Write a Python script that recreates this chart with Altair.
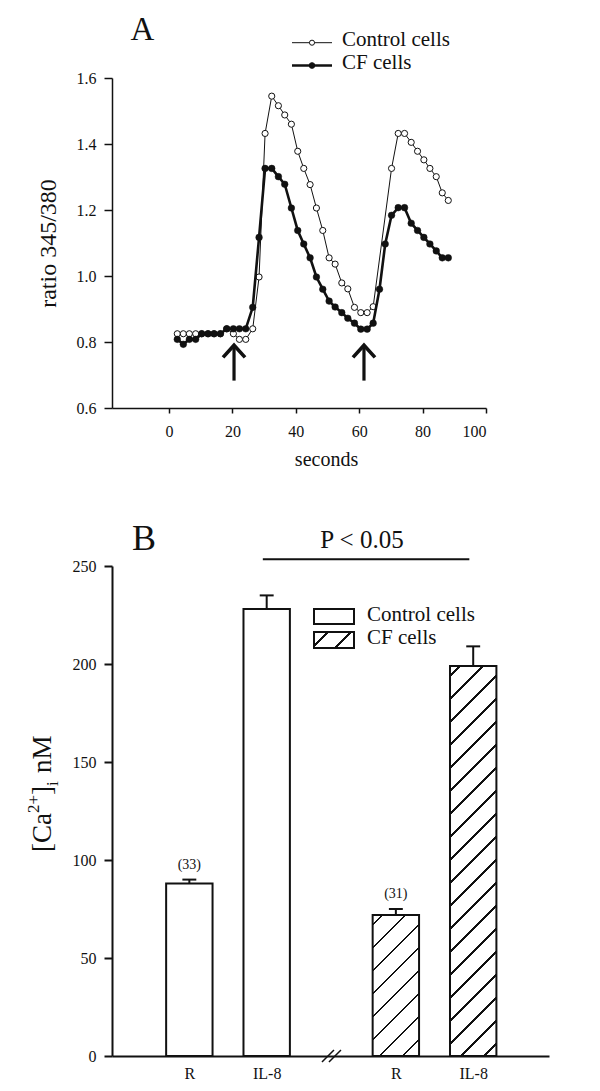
import altair as alt
import pandas as pd

# ---------------- data: panel A (Fura-2 ratio traces) ----------------
time_s = [2.6, 4.5, 6.4, 8.4, 10.3, 12.3, 14.2, 16.2, 18.2, 20.3, 22.2, 24.2,
          26.4, 28.4, 30.3, 32.4, 34.5, 36.5, 38.6, 40.6, 42.5, 44.5, 46.5, 48.5,
          50.5, 52.4, 54.5, 56.4, 58.5, 60.5, 62.5, 64.4, 66.4, 68.2, 70.2, 72.3,
          74.3, 76.4, 78.4, 80.4, 82.3, 84.3, 86.2, 88.1]
control_ratio = [0.825, 0.825, 0.825, 0.825, 0.825, 0.825, 0.825, 0.825, 0.84, 0.825,
                 0.808, 0.808, 0.84, 0.997, 1.432, 1.545, 1.516, 1.488, 1.46, 1.378,
                 1.326, 1.277, 1.206, 1.138, 1.055, 1.036, 0.979, 0.961, 0.905, 0.889,
                 0.889, 0.907, None, None, 1.326, 1.432, 1.432, 1.405, 1.378, 1.352,
                 1.326, 1.301, 1.252, 1.229]
cf_ratio = [0.808, 0.793, 0.808, 0.808, 0.825, 0.825, 0.825, 0.825, 0.84, 0.84,
            0.84, 0.84, 0.905, 1.117, 1.326, 1.326, 1.301, 1.278, 1.206, 1.138,
            1.097, 1.055, 0.997, 0.96, 0.924, 0.906, 0.889, 0.872, 0.857, 0.839,
            0.839, 0.857, 0.96, 1.097, 1.184, 1.207, 1.207, 1.16, 1.138, 1.117,
            1.097, 1.076, 1.055, 1.055]
series_names = ["Control cells", "CF cells"]
arrow_time = [20.5, 61.5]
arrow_tip = [0.79, 0.79]
arrow_tail = [0.683, 0.683]
x_ticks_A = [0, 20, 40, 60, 80, 100]
y_ticks_A = [0.6, 0.8, 1.0, 1.2, 1.4, 1.6]

# ---------------- data: panel B ([Ca2+]i bars) ----------------
cell_group = ["Control cells", "Control cells", "CF cells", "CF cells"]
stimulus = ["R", "IL-8", "R", "IL-8"]
ca_nM = [88, 228, 72, 199]
ca_sem = [2, 7, 3, 10]
n_label = ["(33)", "", "(31)", ""]
y_ticks_B = [0, 50, 100, 150, 200, 250]

# ---------------- layout constants ----------------
INK = "#111111"
FONT = "Liberation Serif"
WA, HA = 374, 330
WB, HB = 437, 490
XB_MAX = 5.65
bar_centre = [1.0, 2.0, 3.67, 4.67]
BAR_HALF = 0.3
CAP_HALF = 0.09
PX_PER_UNIT_B = HB / 250.0
BAR_W_PX = 2 * BAR_HALF * WB / XB_MAX


def hatch(w, h, spacing=23.0, thick=2.8, phase=10.0):
    total = w + h
    stops = [{"offset": 0, "color": "white"}]
    c = phase
    while c - thick / 2 < total:
        a = max(0.0, (c - thick / 2) / total)
        b = min(1.0, (c + thick / 2) / total)
        stops += [{"offset": round(a, 5), "color": "white"},
                  {"offset": round(a, 5), "color": INK},
                  {"offset": round(b, 5), "color": INK},
                  {"offset": round(b, 5), "color": "white"}]
        c += spacing
    stops.append({"offset": 1, "color": "white"})
    r = h / w
    s = (1 + r) / (1 + r * r)
    return {"gradient": "linear", "x1": 0, "y1": 0, "x2": round(s, 6),
            "y2": round(s * r, 6), "stops": stops}


def label(txt, size, x, y, align="left", baseline="middle", angle=None):
    kw = dict(text=txt, fontSize=size, font=FONT, color=INK, align=align,
              baseline=baseline)
    if angle is not None:
        kw["angle"] = angle
    return alt.Chart(one).mark_text(**kw).encode(x=alt.value(x), y=alt.value(y))


one = pd.DataFrame({"k": [0]})

# ---------------- panel A ----------------
dfA = pd.DataFrame({
    "t": time_s * 2,
    "ratio": control_ratio + cf_ratio,
    "series": [series_names[0]] * len(time_s) + [series_names[1]] * len(time_s),
}).dropna()

xA = alt.X("t:Q", scale=alt.Scale(domain=[-18, 100], nice=False, zero=False),
           axis=alt.Axis(values=x_ticks_A, title="seconds", tickSize=5,
                         labelPadding=10, titleFontSize=20, titleX=214, titleY=57,
                         titleBaseline="alphabetic", titleAlign="center",
                         domainWidth=1.5, tickWidth=1.5))
yA = alt.Y("ratio:Q", scale=alt.Scale(domain=[0.6, 1.6], nice=False, zero=False),
           axis=alt.Axis(values=y_ticks_A, format=".1f", title="ratio 345/380",
                         tickSize=8, labelPadding=8, titleFontSize=24,
                         titleAngle=270, titleX=-57, titleY=165,
                         titleBaseline="alphabetic", titleAlign="center",
                         domainWidth=1.5, tickWidth=1.5))

baseA = alt.Chart(dfA)
ctrl = baseA.transform_filter(alt.datum.series == series_names[0])
cf = baseA.transform_filter(alt.datum.series == series_names[1])

ctrl_line = ctrl.mark_line(color=INK, strokeWidth=1).encode(x=xA, y=yA)
ctrl_pts = ctrl.mark_point(shape="circle", filled=True, fill="white", stroke=INK,
                           strokeWidth=1, size=38, opacity=1).encode(x=xA, y=yA)
cf_line = cf.mark_line(color=INK, strokeWidth=2.6).encode(x=xA, y=yA)
cf_pts = cf.mark_point(shape="circle", filled=True, fill=INK, stroke=INK,
                       strokeWidth=0.5, size=44, opacity=1).encode(x=xA, y=yA)

dfArrow = pd.DataFrame({"t": arrow_time, "ratio": arrow_tip, "tail": arrow_tail})
arrow_shaft = alt.Chart(dfArrow).mark_rule(color=INK, strokeWidth=3.2).encode(
    x="t:Q", y="ratio:Q", y2="tail:Q")
arrow_head = alt.Chart(dfArrow).mark_point(
    shape="M-1,1.1L0,0L1,1.1", filled=False, stroke=INK, strokeWidth=3.6,
    size=484, opacity=1).encode(x="t:Q", y="ratio:Q")

title_A = label("A", 33, 30.5, -38, align="center", baseline="alphabetic")
legA_items = []
for name, ly, sw, fill, sz in [(series_names[0], -35.3, 1, "white", 26),
                               (series_names[1], -12.5, 2.6, INK, 32)]:
    legA_items.append(alt.Chart(one).mark_rule(color=INK, strokeWidth=sw).encode(
        x=alt.value(180), x2=alt.value(220), y=alt.value(ly)))
    legA_items.append(alt.Chart(one).mark_point(
        shape="circle", filled=True, fill=fill, stroke=INK, strokeWidth=1,
        size=sz, opacity=1).encode(x=alt.value(200), y=alt.value(ly)))
    legA_items.append(label(name, 21, 230, ly - 3))

panelA = alt.layer(ctrl_line, ctrl_pts, cf_line, cf_pts, arrow_shaft, arrow_head,
                   title_A, *legA_items).properties(width=WA, height=HA)

# ---------------- panel B ----------------
dfB = pd.DataFrame({"group": cell_group, "stim": stimulus, "value": ca_nM,
                    "sem": ca_sem, "n": n_label})
dfB["pos"] = bar_centre
dfB["x0"] = dfB["pos"] - BAR_HALF
dfB["x1"] = dfB["pos"] + BAR_HALF
dfB["top"] = dfB["value"] + dfB["sem"]
dfB["c0"] = dfB["pos"] - CAP_HALF
dfB["c1"] = dfB["pos"] + CAP_HALF

label_expr = ("datum.value < 1.5 ? 'R' : datum.value < 2.5 ? 'IL-8' : "
              "datum.value < 4.2 ? 'R' : 'IL-8'")
xB = alt.X("x0:Q", scale=alt.Scale(domain=[0, XB_MAX], nice=False, zero=False),
           axis=alt.Axis(values=bar_centre, labelExpr=label_expr, ticks=False,
                         title=None, labelPadding=9, domainWidth=2))
yB = alt.Y("value:Q", scale=alt.Scale(domain=[0, 250], nice=False),
           axis=alt.Axis(values=y_ticks_B, title=None, tickSize=8, labelPadding=8,
                         domainWidth=2, tickWidth=2))

baseB = alt.Chart(dfB)
ctrl_bars = baseB.transform_filter(alt.datum.group == "Control cells").mark_bar(
    fill="white", stroke=INK, strokeWidth=2).encode(
    x=xB, x2="x1:Q", y=yB, y2=alt.datum(0))
hatched = []
for i in range(len(ca_nM)):
    if cell_group[i] != "CF cells":
        continue
    g = hatch(BAR_W_PX, ca_nM[i] * PX_PER_UNIT_B)
    hatched.append(baseB.transform_filter(
        (alt.datum.group == cell_group[i]) & (alt.datum.stim == stimulus[i])
    ).mark_bar(fill=g, stroke=INK, strokeWidth=2).encode(
        x=xB, x2="x1:Q", y=yB, y2=alt.datum(0)))

err_stem = baseB.mark_rule(color=INK, strokeWidth=2).encode(
    x="pos:Q", y="value:Q", y2="top:Q")
err_cap = baseB.mark_rule(color=INK, strokeWidth=2).encode(
    x="c0:Q", x2="c1:Q", y="top:Q")
n_text = baseB.transform_filter(alt.datum.n != "").mark_text(
    fontSize=14, font=FONT, color=INK, baseline="bottom", dy=-8).encode(
    x="pos:Q", y="top:Q", text="n:N")

dfP = pd.DataFrame({"p0": [1.95], "p1": [4.62]})
p_line = alt.Chart(dfP).mark_rule(color=INK, strokeWidth=2).encode(
    x="p0:Q", x2="p1:Q", y=alt.value(-6.7))
p_text = label("P < 0.05", 25, 250, -18, align="center", baseline="alphabetic")

dfBreak = pd.DataFrame({"b0": [2.715, 2.805], "b1": [2.87, 2.96]})
brk = alt.Chart(dfBreak).mark_rule(color=INK, strokeWidth=1.5).encode(
    x="b0:Q", x2="b1:Q", y=alt.value(HB + 6), y2=alt.value(HB - 6))

title_B = label("B", 36, 32, -16, align="center", baseline="alphabetic")

legB = [
    alt.Chart(one).mark_rect(fill="white", stroke=INK, strokeWidth=2).encode(
        x=alt.value(202), x2=alt.value(242), y=alt.value(43), y2=alt.value(58)),
    alt.Chart(one).mark_rect(fill=hatch(40, 16, phase=14), stroke=INK, strokeWidth=2).encode(
        x=alt.value(202), x2=alt.value(242), y=alt.value(66), y2=alt.value(82)),
    label(series_names[0], 21, 255, 49),
    label(series_names[1], 21, 255, 72),
]

# y-axis title [Ca2+]i nM built from pieces (rotated, reading upwards)
ytitle_parts = [("[Ca", 27, -61, 0.0, 1.444),
                ("2+", 17, -73, 0.0, 1.064),
                ("]", 27, -61, 0.0, 0.333),
                ("i", 17, -54, 0.0, 0.278),
                ("nM", 27, -61, 0.3, 1.389)]
ytitle = []
cur = 286
for txt, fs, px, gap, em in ytitle_parts:
    cur -= fs * gap
    ytitle.append(label(txt, fs, px, cur, baseline="alphabetic", angle=270))
    cur -= fs * em

panelB = alt.layer(ctrl_bars, *hatched, err_stem, err_cap, n_text, p_line, p_text,
                   brk, title_B, *legB, *ytitle).properties(width=WB, height=HB)

chart = alt.vconcat(panelA, panelB, spacing=158, bounds="flush").properties(
    padding={"left": 17, "top": 6, "right": 5, "bottom": 5}
).configure(font=FONT).configure_view(stroke=None).configure_axis(
    grid=False, domainColor=INK, tickColor=INK, labelColor=INK, titleColor=INK,
    labelFontSize=16, titleFontWeight="normal", labelFont=FONT, titleFont=FONT
).configure_text(font=FONT)

chart.save("out.html", embed_options={"renderer": "svg", "actions": False})
